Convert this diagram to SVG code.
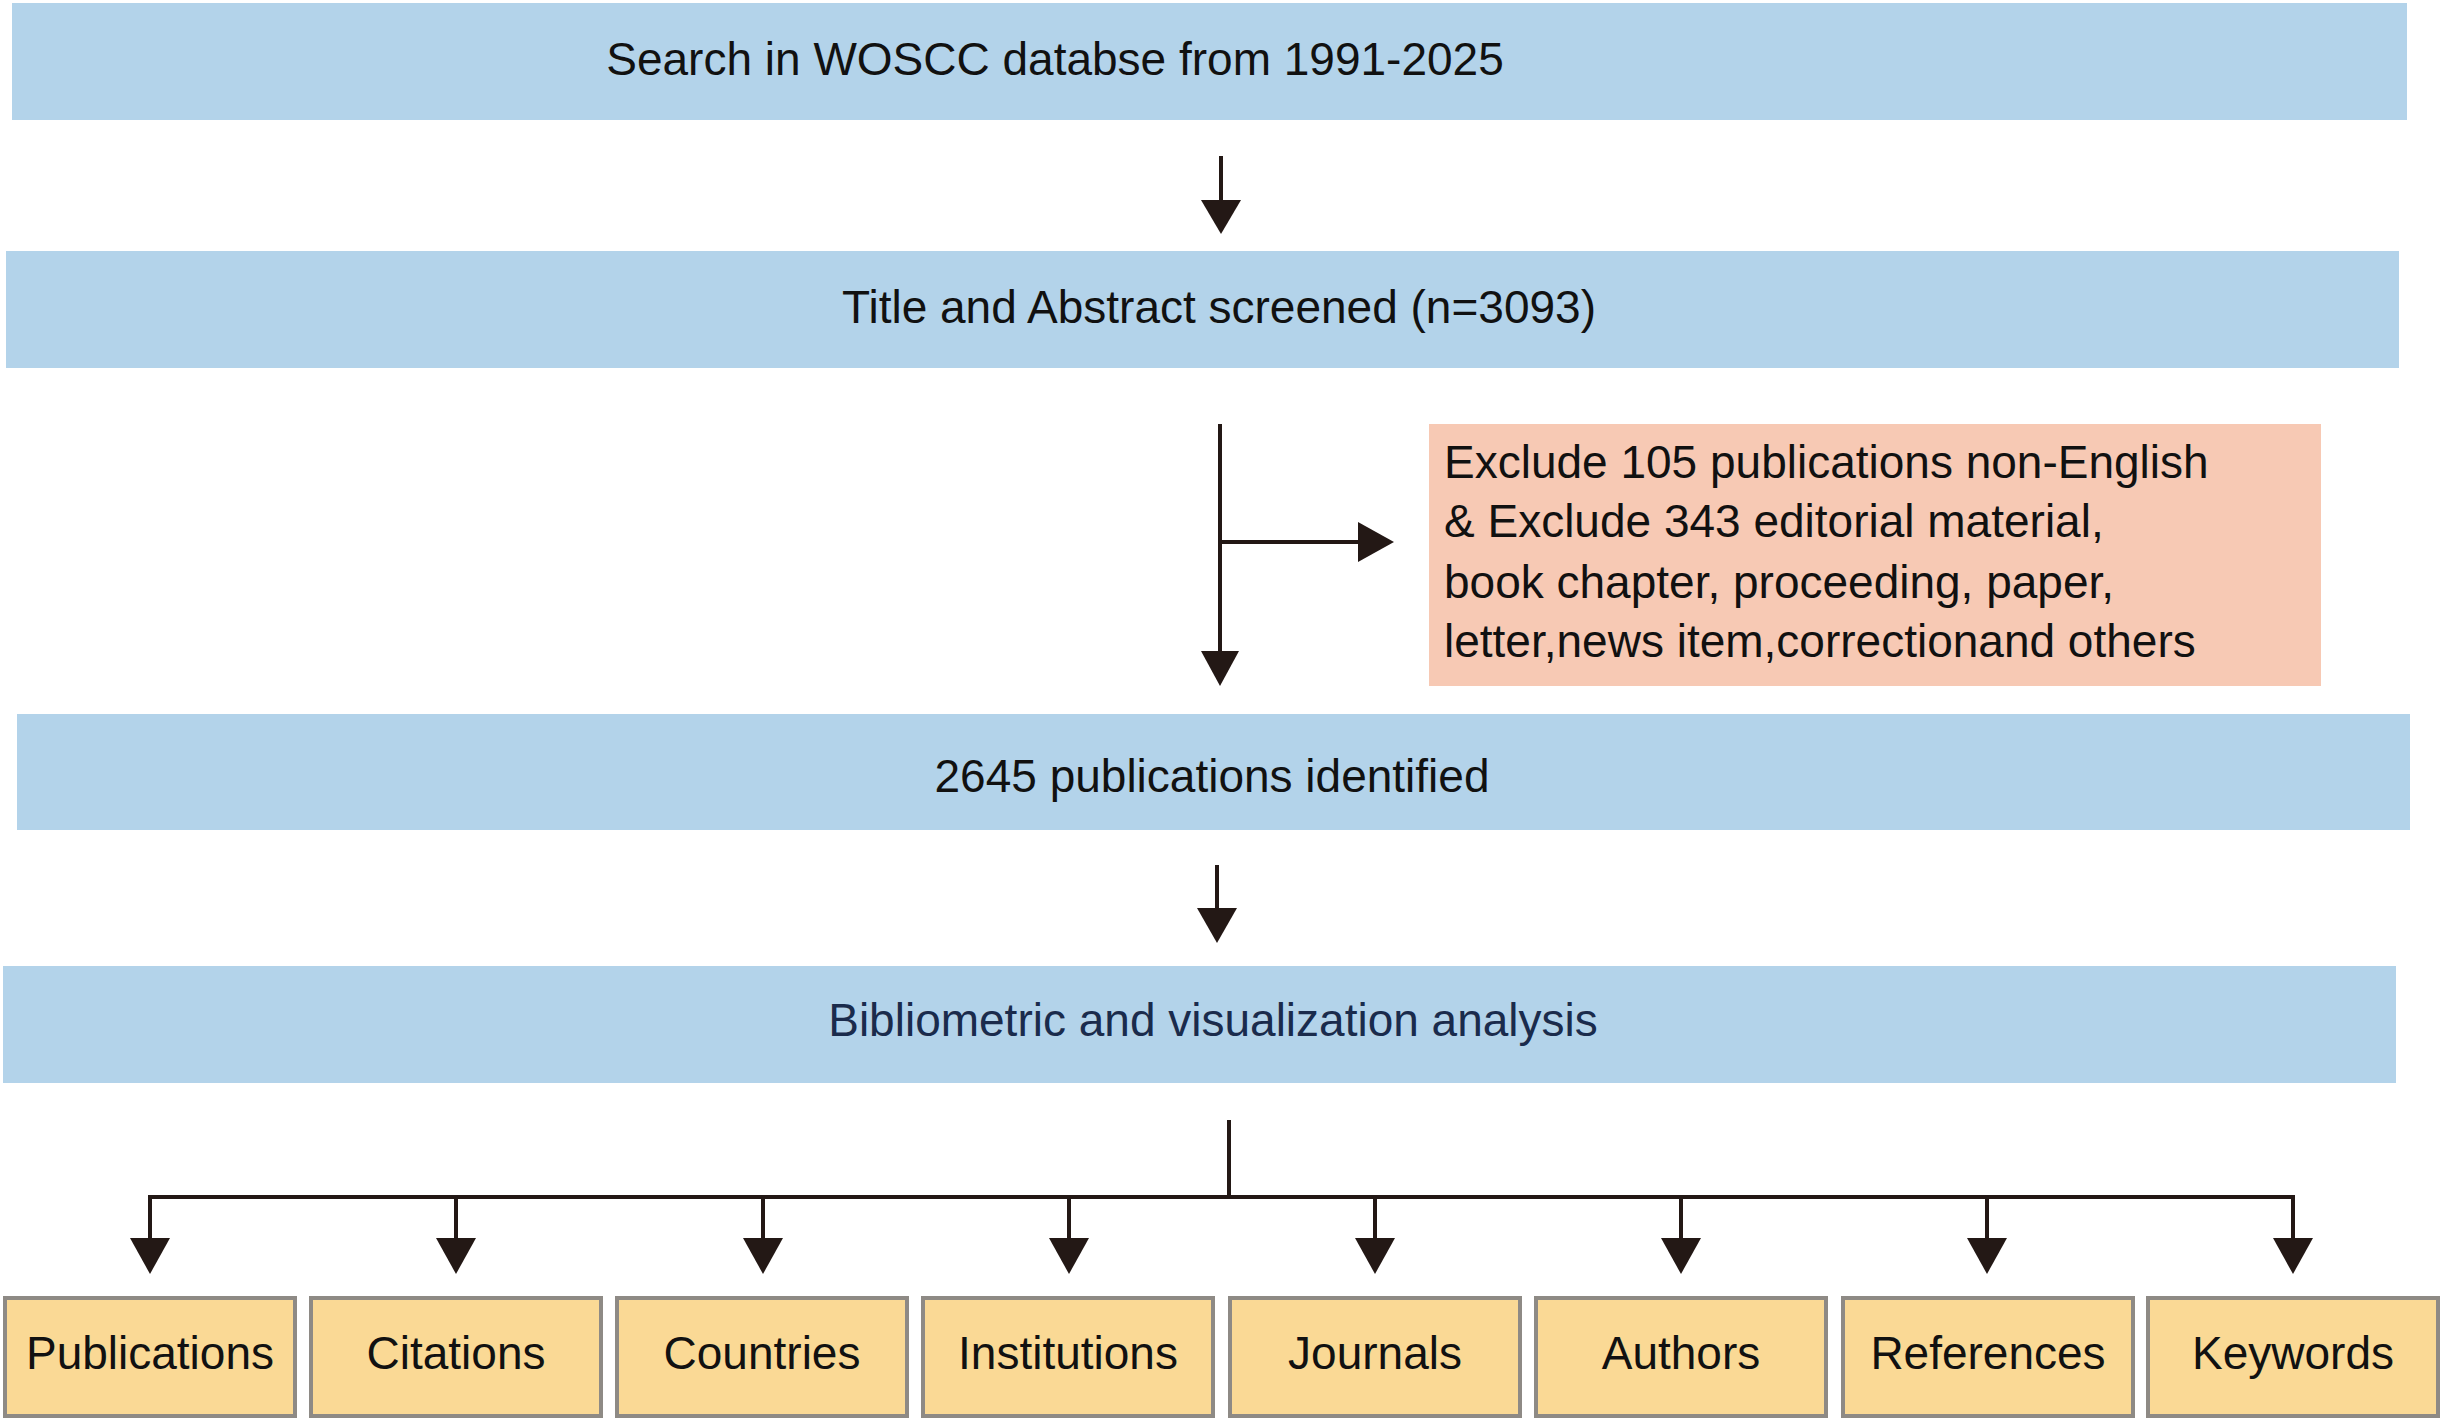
<svg xmlns="http://www.w3.org/2000/svg" width="2443" height="1422" viewBox="0 0 2443 1422">
<style>
.b{fill:#b3d3ea}
.t{font-family:"Liberation Sans",Arial,sans-serif;font-size:46px;fill:#111}
.c{text-anchor:middle;dominant-baseline:central}
.y{fill:#fad995;stroke:#8e8a85;stroke-width:4}
.l{stroke:#231815;stroke-width:4;fill:none}
.h{fill:#231815}
</style>
<rect width="2443" height="1422" fill="#fff"/>
<g id="n1"><rect class="b" x="12" y="3" width="2395" height="117"/><text class="t c" x="1055" y="59">Search in WOSCC databse from 1991-2025</text></g>
<g id="n2"><rect class="b" x="6" y="251" width="2393" height="117"/><text class="t c" x="1219" y="307">Title and Abstract screened (n=3093)</text></g>
<g id="n3"><rect fill="#f7c9b4" x="1429" y="424" width="892" height="262"/>
<text class="t" x="1444" y="478">Exclude 105 publications non-English</text>
<text class="t" x="1444" y="537">&amp; Exclude 343 editorial material,</text>
<text class="t" x="1444" y="598">book chapter, proceeding, paper,</text>
<text class="t" x="1444" y="657">letter,news item,correctionand others</text></g>
<g id="n4"><rect class="b" x="17" y="714" width="2393" height="116"/><text class="t c" x="1212" y="776">2645 publications identified</text></g>
<g id="n5"><rect class="b" x="3" y="966" width="2393" height="117"/><text class="t c" x="1213" y="1020" style="fill:#1a2b4c">Bibliometric and visualization analysis</text></g>
<g id="connectors">
<path class="l" d="M1221 156V202"/><path class="h" d="M1201 200H1241L1221 234Z"/>
<path class="l" d="M1220 424V655M1220 542H1362"/><path class="h" d="M1201 651H1239L1220 686Z"/><path class="h" d="M1358 522V562L1394 542Z"/>
<path class="l" d="M1217 865V911"/><path class="h" d="M1197 908H1237L1217 943Z"/>
<path class="l" d="M1229 1120V1197M150 1240V1197H2293V1240M456 1197V1240M763 1197V1240M1069 1197V1240M1375 1197V1240M1681 1197V1240M1987 1197V1240"/>
<g class="h"><path d="M130 1238H170L150 1274Z"/><path d="M436 1238H476L456 1274Z"/><path d="M743 1238H783L763 1274Z"/><path d="M1049 1238H1089L1069 1274Z"/><path d="M1355 1238H1395L1375 1274Z"/><path d="M1661 1238H1701L1681 1274Z"/><path d="M1967 1238H2007L1987 1274Z"/><path d="M2273 1238H2313L2293 1274Z"/></g>
</g>
<g id="b1"><rect class="y" x="5" y="1298" width="290" height="118"/><text class="t c" x="150" y="1353">Publications</text></g>
<g id="b2"><rect class="y" x="311" y="1298" width="290" height="118"/><text class="t c" x="456" y="1353">Citations</text></g>
<g id="b3"><rect class="y" x="617" y="1298" width="290" height="118"/><text class="t c" x="762" y="1353">Countries</text></g>
<g id="b4"><rect class="y" x="923" y="1298" width="290" height="118"/><text class="t c" x="1068" y="1353">Institutions</text></g>
<g id="b5"><rect class="y" x="1230" y="1298" width="290" height="118"/><text class="t c" x="1375" y="1353">Journals</text></g>
<g id="b6"><rect class="y" x="1536" y="1298" width="290" height="118"/><text class="t c" x="1681" y="1353">Authors</text></g>
<g id="b7"><rect class="y" x="1843" y="1298" width="290" height="118"/><text class="t c" x="1988" y="1353">References</text></g>
<g id="b8"><rect class="y" x="2148" y="1298" width="290" height="118"/><text class="t c" x="2293" y="1353">Keywords</text></g>
</svg>
